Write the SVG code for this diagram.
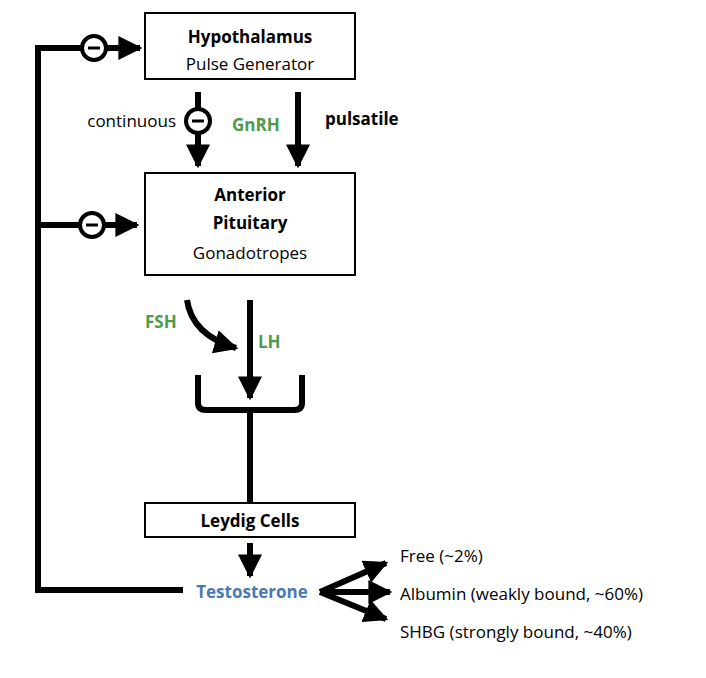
<svg xmlns="http://www.w3.org/2000/svg" width="706" height="678" viewBox="0 0 706 678">
<defs>
<marker id="ah" viewBox="0 0 10 10" refX="9" refY="5" markerWidth="4" markerHeight="4" markerUnits="strokeWidth" orient="auto"><path d="M0,0L10,5L0,10Z" fill="#000"/></marker>
</defs>
<style>
text{font-family:"Open Sans","Liberation Sans",sans-serif;font-size:17px;fill:#000}
.b{font-weight:bold}
.g{fill:#4e9a4a;font-weight:bold}
.box{fill:#fff;stroke:#000;stroke-width:2}
.ln{fill:none;stroke:#000;stroke-width:6}
.c{fill:#fff;stroke:#000;stroke-width:4}
</style>
<rect width="706" height="678" fill="#fff"/>
<g id="connectors">
<path class="ln" d="M183,590H38V48H82"/>
<line class="ln" x1="106" y1="48" x2="140" y2="48" marker-end="url(#ah)"/>
<path class="ln" d="M38,225H80"/>
<line class="ln" x1="104" y1="225" x2="137" y2="225" marker-end="url(#ah)"/>
<line class="ln" x1="198" y1="92" x2="198" y2="109"/>
<line class="ln" x1="198" y1="133" x2="198" y2="166" marker-end="url(#ah)"/>
<line class="ln" x1="298" y1="92" x2="298" y2="166" marker-end="url(#ah)"/>
<path class="ln" d="M187,300Q192,335 236,348" marker-end="url(#ah)"/>
<line class="ln" x1="250" y1="300" x2="250" y2="398" marker-end="url(#ah)"/>
<path class="ln" d="M198,375V403Q198,410 206,410H294Q302,410 302,403V375"/>
<line class="ln" x1="250" y1="410" x2="250" y2="503"/>
<line class="ln" x1="250" y1="543" x2="250" y2="576" marker-end="url(#ah)"/>
<line class="ln" x1="320" y1="592" x2="386" y2="563" marker-end="url(#ah)"/>
<line class="ln" x1="320" y1="592" x2="390" y2="592" marker-end="url(#ah)"/>
<line class="ln" x1="320" y1="592" x2="386" y2="619" marker-end="url(#ah)"/>
<circle class="c" cx="94" cy="48" r="12"/><line x1="88" y1="48" x2="100" y2="48" stroke="#000" stroke-width="3"/>
<circle class="c" cx="92" cy="225" r="12"/><line x1="86" y1="225" x2="98" y2="225" stroke="#000" stroke-width="3"/>
<circle class="c" cx="198" cy="121" r="12"/><line x1="192" y1="121" x2="204" y2="121" stroke="#000" stroke-width="3"/>
</g>
<g id="hypothalamus"><rect class="box" x="145" y="13" width="210" height="66"/>
<text class="b" x="250" y="43" text-anchor="middle">Hypothalamus</text>
<text x="250" y="70" text-anchor="middle">Pulse Generator</text></g>
<g id="pituitary"><rect class="box" x="145" y="173" width="210" height="102"/>
<text class="b" x="250" y="201" text-anchor="middle">Anterior</text>
<text class="b" x="250" y="229" text-anchor="middle">Pituitary</text>
<text x="250" y="259" text-anchor="middle">Gonadotropes</text></g>
<g id="leydig"><rect class="box" x="145" y="503" width="210" height="34"/>
<text class="b" x="250" y="527" text-anchor="middle">Leydig Cells</text></g>
<g id="labels">
<text x="176" y="127" text-anchor="end">continuous</text>
<text class="g" x="232" y="131">GnRH</text>
<text class="b" x="325" y="125">pulsatile</text>
<text class="g" x="145" y="328">FSH</text>
<text class="g" x="258" y="348">LH</text>
<text x="252" y="598" text-anchor="middle" font-weight="bold" style="fill:#4a7ab5">Testosterone</text>
<text x="400" y="562">Free (~2%)</text>
<text x="400" y="600">Albumin (weakly bound, ~60%)</text>
<text x="400" y="638">SHBG (strongly bound, ~40%)</text>
</g>
</svg>
